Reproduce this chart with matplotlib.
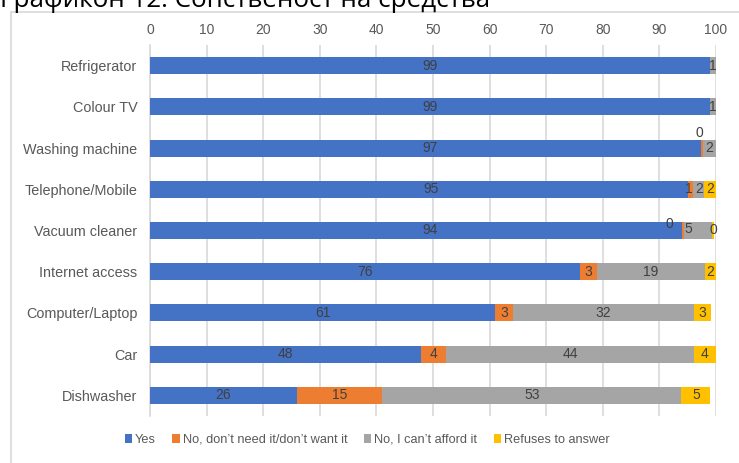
import matplotlib
matplotlib.use("Agg")
import matplotlib.pyplot as plt
from matplotlib.patches import Rectangle
import numpy as np

categories = ["Refrigerator", "Colour TV", "Washing machine", "Telephone/Mobile",
              "Vacuum cleaner", "Internet access", "Computer/Laptop", "Car", "Dishwasher"]
series_names = ["Yes", "No, don\u2019t need it/don\u2019t want it", "No, I can\u2019t afford it", "Refuses to answer"]
yes = [98.9, 98.9, 97.3, 95.1, 94.0, 76.0, 61.0, 47.9, 25.9]
no_need = [0.0, 0.0, 0.4, 0.9, 0.3, 3.0, 3.1, 4.4, 15.1]
no_afford = [1.1, 1.1, 2.3, 1.9, 5.0, 19.0, 32.0, 43.8, 52.9]
refuses = [0.0, 0.0, 0.0, 2.1, 0.3, 2.0, 3.0, 3.9, 5.1]
colors = ["#4472C4", "#ED7D31", "#A5A5A5", "#FFC000"]
xticks = [0, 10, 20, 30, 40, 50, 60, 70, 80, 90, 100]
title = "Графикон 12: Сопственост на средства"

plt.rcParams['font.family'] = ['Liberation Sans', 'DejaVu Sans']

W, H = 739, 463
fig = plt.figure(figsize=(W / 100, H / 100), dpi=100)
ax = fig.add_axes([150 / W, 1 - 416 / H, (716 - 150) / W, (416 - 45) / H])

y = np.arange(len(categories))
series = [yes, no_need, no_afford, refuses]
left = np.zeros(len(categories))
bars = []
for vals, c, name in zip(series, colors, series_names):
    v = np.array(vals)
    b = ax.barh(y, v, left=left, height=0.41, color=c, label=name, zorder=3)
    bars.append((b, v, left.copy()))
    left = left + v

# manual label offsets (data units) as placed in the reference
offsets = {
    (0, "Washing machine"): (0.9, 0),
    (0, "Telephone/Mobile"): (2.1, 0),
    (0, "Vacuum cleaner"): (2.5, 0),
    (1, "Washing machine"): (-0.5, -0.36),
    (1, "Vacuum cleaner"): (-2.3, -0.15),
    (1, "Telephone/Mobile"): (-0.3, 0),
    (2, "Vacuum cleaner"): (-1.7, -0.03),
}

label_col = "#404040"
fs = 10
for si, (b, v, l) in enumerate(bars):
    for i, (val, st) in enumerate(zip(v, l)):
        cat = categories[i]
        show = val > 0 or (si == 1 and cat in ("Washing machine", "Vacuum cleaner")) \
            or (si == 3 and cat == "Vacuum cleaner")
        if not show:
            continue
        txt = f"{val:.0f}"
        dx, dy = offsets.get((si, cat), (0, 0))
        ax.text(st + val / 2 + dx, i + dy, txt, ha="center", va="center", fontsize=fs,
                color=label_col, zorder=5)

ax.set_xlim(0, 100)
ax.set_ylim(len(categories) - 0.5, -0.5)
ax.set_yticks(y)
ax.set_yticklabels(categories)
ax.set_xticks(xticks)
ax.xaxis.tick_top()
ax.tick_params(axis="both", length=0, labelsize=10, colors="#595959")
ax.tick_params(axis="x", pad=6)
ax.tick_params(axis="y", pad=9, labelsize=10.4)
ax.grid(axis="x", color="#D9D9D9", linewidth=1.2, zorder=0)
for s in ["top", "right", "bottom"]:
    ax.spines[s].set_visible(False)
ax.spines["left"].set_color("#D9D9D9")
ax.spines["left"].set_linewidth(1.2)

fig.legend(loc="center", bbox_to_anchor=(367 / W, 1 - 440 / H), ncol=4, frameon=False,
           prop={"size": 9.2},
           handlelength=0.6, handleheight=0.6, handletextpad=0.2,
           columnspacing=1.3, labelcolor="#595959")

# outer chart frame (partly cut off)
fig.patches.append(Rectangle((11 / W, -0.1), 2.0, 1 - 12 / H + 0.1, transform=fig.transFigure,
                             fill=False, edgecolor="#D9D9D9", linewidth=1.2))

fig.text(0.0, 1 - 7 / H, title, fontsize=18.7, family=["Open Sans", "DejaVu Sans"],
         ha="left", va="baseline", color="#000000")

fig.savefig("out.png", dpi=100)
